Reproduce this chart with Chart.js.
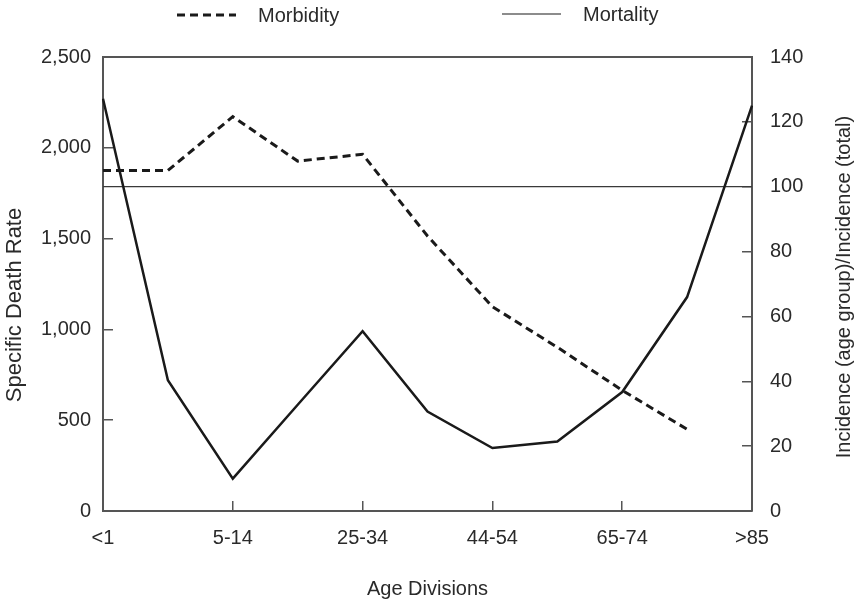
<!DOCTYPE html>
<html>
<head>
<meta charset="utf-8">
<title>Morbidity and Mortality by Age</title>
<script src="https://cdn.jsdelivr.net/npm/chart.js@4.4.1/dist/chart.umd.min.js"></script>
<style>
  body { margin: 0; background: #fff; }
  #ageChart { display: block; }
</style>
</head>
<body>
<canvas id="ageChart" width="856" height="602"></canvas>
<script>
// age groups on the x axis (only every other one gets a label)
var ageGroups = ['<1', '1-4', '5-14', '15-24', '25-34', '35-44', '44-54', '55-64', '65-74', '75-84', '>85'];

// specific death rate, left axis
var mortality = [2270, 720, 178, 585, 990, 548, 347, 383, 655, 1178, 2232];

// incidence (age group) / incidence (total), right axis
var morbidity = [105, 105, 121.6, 107.9, 110, 84.8, 63, 50.5, 37.2, 25.2, null];

// the "total" level on the right axis
var totalLevel = [100, 100, 100, 100, 100, 100, 100, 100, 100, 100, 100];

var leftTicks = [0, 500, 1000, 1500, 2000, 2500];
var rightTicks = [0, 20, 40, 60, 80, 100, 120, 140];

var textColor = '#2a2a2a';
var axisColor = '#555555';
var lineColor = '#1a1a1a';

Chart.defaults.font.family = "'Liberation Sans', Arial, Helvetica, sans-serif";
Chart.defaults.font.size = 20;
Chart.defaults.color = textColor;

// inner tick marks, none on the corners
function innerTick(max) {
  return function(c) {
    if (!c.tick) return 'rgba(0,0,0,0)';
    return (c.tick.value > 0 && c.tick.value < max) ? axisColor : 'rgba(0,0,0,0)';
  };
}

// legend and the two y titles, drawn on the canvas
var sideText = {
  id: 'sideText',
  afterDraw: function(chart) {
    var ctx = chart.ctx;
    var area = chart.chartArea;
    var sets = chart.data.datasets;
    var spots = [
      { set: 0, lineX: area.left + 74, textX: area.left + 155, y: 15, width: 3 },
      { set: 1, lineX: area.left + 399, textX: area.left + 480, y: 14, width: 1.2 }
    ];
    ctx.save();
    ctx.textBaseline = 'middle';
    ctx.textAlign = 'left';
    ctx.font = "20px 'Liberation Sans', Arial, sans-serif";
    spots.forEach(function(s) {
      var ds = sets[s.set];
      ctx.beginPath();
      ctx.setLineDash(ds.borderDash || []);
      ctx.lineWidth = s.width;
      ctx.strokeStyle = ds.borderColor;
      ctx.moveTo(s.lineX, s.y);
      ctx.lineTo(s.lineX + 59, s.y);
      ctx.stroke();
      ctx.fillStyle = textColor;
      ctx.fillText(ds.label, s.textX, s.y + 1);
    });
    ctx.setLineDash([]);

    ctx.textAlign = 'center';
    ctx.fillStyle = textColor;

    ctx.save();
    ctx.translate(15, 305);
    ctx.rotate(-Math.PI / 2);
    ctx.font = "22px 'Liberation Sans', Arial, sans-serif";
    ctx.fillText('Specific Death Rate', 0, 0);
    ctx.restore();

    ctx.save();
    ctx.translate(844, (area.top + area.bottom) / 2 + 3);
    ctx.rotate(-Math.PI / 2);
    ctx.font = "20px 'Liberation Sans', Arial, sans-serif";
    ctx.fillText('Incidence (age group)/Incidence (total)', 0, 0);
    ctx.restore();

    ctx.restore();
  }
};

var ctx = document.getElementById('ageChart');

var chart = new Chart(ctx, {
  type: 'line',
  data: {
    labels: ageGroups,
    datasets: [
      {
        label: 'Morbidity',
        data: morbidity,
        yAxisID: 'y1',
        borderColor: lineColor,
        borderWidth: 3,
        borderDash: [8, 5],
        pointRadius: 0,
        fill: false,
        tension: 0
      },
      {
        label: 'Mortality',
        data: mortality,
        yAxisID: 'y',
        borderColor: lineColor,
        borderWidth: 2.5,
        pointRadius: 0,
        fill: false,
        tension: 0
      },
      {
        label: 'Total',
        data: totalLevel,
        yAxisID: 'y1',
        borderColor: '#3a3a3a',
        borderWidth: 1.2,
        pointRadius: 0,
        fill: false
      }
    ]
  },
  options: {
    responsive: false,
    animation: false,
    devicePixelRatio: 1,
    layout: { padding: { top: 57, left: 0, right: 0, bottom: 0 } },
    plugins: {
      legend: { display: false },
      tooltip: { enabled: false }
    },
    scales: {
      x: {
        type: 'category',
        position: 'bottom',
        offset: false,
        border: { color: axisColor, width: 2 },
        grid: {
          drawOnChartArea: false,
          tickLength: -10,
          lineWidth: 1.5,
          color: function(c) {
            var i = c.index;
            return (i > 0 && i < ageGroups.length - 1 && i % 2 === 0) ? axisColor : 'rgba(0,0,0,0)';
          }
        },
        ticks: {
          autoSkip: false,
          maxRotation: 0,
          padding: 25,
          color: textColor,
          callback: function(v, i) { return i % 2 === 0 ? ageGroups[i] : ''; }
        },
        title: {
          display: true,
          text: 'Age Divisions',
          color: textColor,
          padding: { top: 0, bottom: 1 }
        },
        afterFit: function(s) { s.height = 91; }
      },
      xTop: {
        type: 'category',
        position: 'top',
        display: true,
        offset: false,
        border: { color: axisColor, width: 2 },
        grid: { display: false },
        ticks: { display: false },
        afterFit: function(s) { s.height = 0; }
      },
      y: {
        position: 'left',
        min: leftTicks[0],
        max: leftTicks[leftTicks.length - 1],
        border: { color: axisColor, width: 2 },
        grid: {
          drawOnChartArea: false,
          tickLength: -10,
          lineWidth: 1.5,
          color: innerTick(leftTicks[leftTicks.length - 1])
        },
        ticks: {
          stepSize: leftTicks[1] - leftTicks[0],
          padding: 22,
          color: textColor,
          callback: function(v) { return v.toLocaleString('en-US'); }
        },
        afterFit: function(s) { s.width = 103; }
      },
      y1: {
        position: 'right',
        min: rightTicks[0],
        max: rightTicks[rightTicks.length - 1],
        border: { color: axisColor, width: 2 },
        grid: {
          drawOnChartArea: false,
          tickLength: -10,
          lineWidth: 1.5,
          color: innerTick(rightTicks[rightTicks.length - 1])
        },
        ticks: {
          stepSize: rightTicks[1] - rightTicks[0],
          padding: 28,
          color: textColor
        },
        afterFit: function(s) { s.width = 104; }
      }
    }
  },
  plugins: [sideText]
});
</script>
</body>
</html>
